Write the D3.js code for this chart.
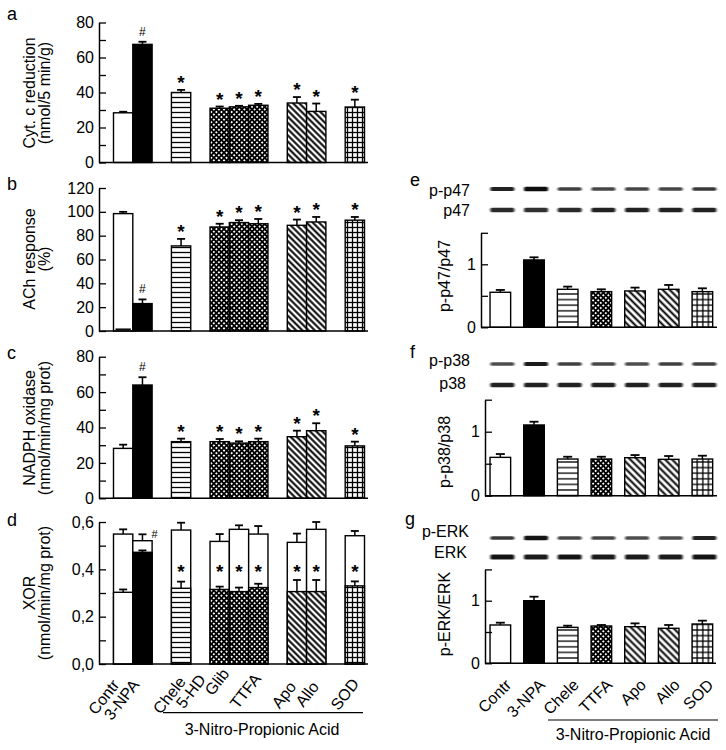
<!DOCTYPE html>
<html><head><meta charset="utf-8">
<script src="https://cdn.jsdelivr.net/npm/d3@7"></script>
<style>body{margin:0;background:#fff}svg{display:block}text{font-family:"Liberation Sans",Arial,Helvetica,sans-serif;fill:#000}</style>
</head><body><svg id="c" width="726" height="750"></svg>
<script>
// ---------------- DATA ----------------
const leftClusters = [["Contr","3-NPA"],["Chele"],["5-HD","Glib","TTFA"],["Apo","Allo"],["SOD"]];
const leftGroups = leftClusters.flat();
// a: Cyt. c reduction
const cytMean = [28.4, 67.5, 40.0, 31.0, 31.8, 32.7, 34.0, 29.2, 31.7];
const cytErr  = [0.6, 1.5, 1.5, 1.0, 0.6, 0.8, 3.4, 4.5, 4.2];
const cytSig  = ["", "#", "*", "*", "*", "*", "*", "*", "*"];
// b: ACh response
const achMean = [98.5, 23.0, 71.4, 87.3, 91.0, 90.0, 88.7, 91.5, 93.0];
const achErr  = [1.5, 3.5, 5.9, 2.7, 2.0, 4.0, 4.8, 4.2, 2.7];
const achSig  = ["", "#", "*", "*", "*", "*", "*", "*", "*"];
const achBase = [1.5, 0, 0, 0, 0, 0, 0, 0, 0];
// c: NADPH oxidase
const noxMean = [28.2, 64.0, 32.0, 32.0, 31.2, 32.0, 34.8, 38.2, 29.6];
const noxErr  = [2.1, 4.4, 1.7, 1.5, 1.0, 1.7, 3.4, 4.2, 2.4];
const noxSig  = ["", "#", "*", "*", "*", "*", "*", "*", "*"];
// d: XOR (total and lower component)
const xorTotal    = [0.549, 0.521, 0.566, 0.518, 0.569, 0.549, 0.514, 0.569, 0.542];
const xorTotalErr = [0.020, 0.027, 0.031, 0.031, 0.017, 0.034, 0.037, 0.031, 0.020];
const xorPart     = [0.303, 0.472, 0.320, 0.315, 0.306, 0.323, 0.306, 0.306, 0.330];
const xorPartErr  = [0.012, 0.008, 0.028, 0.012, 0.017, 0.016, 0.049, 0.049, 0.019];
const xorSig      = ["", "#", "*", "*", "*", "*", "*", "*", "*"];

const rightGroups = ["Contr","3-NPA","Chele","TTFA","Apo","Allo","SOD"];
const p47Mean = [0.556, 1.069, 0.603, 0.566, 0.577, 0.603, 0.566];
const p47Err  = [0.037, 0.042, 0.043, 0.037, 0.053, 0.069, 0.053];
const p38Mean = [0.599, 1.105, 0.573, 0.573, 0.594, 0.568, 0.573];
const p38Err  = [0.052, 0.051, 0.036, 0.036, 0.041, 0.052, 0.052];
const erkMean = [0.612, 1.000, 0.574, 0.596, 0.585, 0.559, 0.628];
const erkErr  = [0.037, 0.064, 0.027, 0.016, 0.053, 0.053, 0.053];
// western blot band intensities (relative darkness)
const p47PhosBand = [0.85, 1.00, 0.65, 0.60, 0.60, 0.60, 0.70];
const p47TotBand  = [0.80, 0.75, 0.80, 0.85, 0.85, 0.85, 0.85];
const p38PhosBand = [0.55, 0.90, 0.65, 0.60, 0.55, 0.65, 0.65];
const p38TotBand  = [0.85, 0.85, 0.85, 0.85, 0.85, 0.85, 0.85];
const erkPhosBand = [0.70, 0.95, 0.60, 0.60, 0.55, 0.55, 0.85];
const erkTotBand  = [0.95, 0.90, 0.95, 0.90, 0.90, 0.90, 0.95];

const leftTicksA = [0,20,40,60,80], leftMinorA = [10,30,50,70];
const leftTicksB = [0,20,40,60,80,100,120];
const leftTicksD = [0,0.2,0.4,0.6], leftMinorD = [0.1,0.3,0.5];
const rightTicks = [0,0.5,1,1.5], rightTickLabels = [0,1];

// ---------------- STYLE ----------------
const fillKind = {"Contr":"white","3-NPA":"black","Chele":"hline","5-HD":"cross","Glib":"cross","TTFA":"cross","Apo":"diag","Allo":"diag","SOD":"grid"};
const svg = d3.select("#c");
const defs = svg.append("defs");
function mkPatterns(suffix, s){
  let p = defs.append("pattern").attr("id","hline"+suffix).attr("patternUnits","userSpaceOnUse").attr("width",s).attr("height",s);
  p.append("rect").attr("width",s).attr("height",s).attr("fill","#fff");
  p.append("line").attr("x1",0).attr("x2",s).attr("y1",s/2).attr("y2",s/2).attr("stroke","#000").attr("stroke-width",1.3);
  p = defs.append("pattern").attr("id","grid"+suffix).attr("patternUnits","userSpaceOnUse").attr("width",s).attr("height",s);
  p.append("rect").attr("width",s).attr("height",s).attr("fill","#fff");
  p.append("line").attr("x1",0).attr("x2",s).attr("y1",s/2).attr("y2",s/2).attr("stroke","#000").attr("stroke-width",1.3);
  p.append("line").attr("y1",0).attr("y2",s).attr("x1",s/2).attr("x2",s/2).attr("stroke","#000").attr("stroke-width",1.3);
  const d = s*0.88;
  p = defs.append("pattern").attr("id","diag"+suffix).attr("patternUnits","userSpaceOnUse").attr("width",d).attr("height",d).attr("patternTransform","rotate(-45)");
  p.append("rect").attr("width",d).attr("height",d).attr("fill","#fff");
  p.append("line").attr("y1",0).attr("y2",d).attr("x1",d/2).attr("x2",d/2).attr("stroke","#000").attr("stroke-width",2.0);
  const c = 3.6;
  p = defs.append("pattern").attr("id","cross"+suffix).attr("patternUnits","userSpaceOnUse").attr("width",c).attr("height",c).attr("patternTransform","rotate(45)");
  p.append("rect").attr("width",c).attr("height",c).attr("fill","#000");
  p.append("rect").attr("x",0.9).attr("y",0.9).attr("width",1.8).attr("height",1.8).attr("fill","#fff");
}
mkPatterns("L",5);
mkPatterns("R",5.6);
defs.append("filter").attr("id","blur").attr("x","-20%").attr("y","-100%").attr("width","140%").attr("height","300%")
  .append("feGaussianBlur").attr("stdDeviation","1.0 0.7");

function fillOf(g, suf){
  const k = fillKind[g];
  if(k==="white") return "#fff";
  if(k==="black") return "#000";
  return "url(#"+k+suf+")";
}

// left x scale with gaps between clusters
const leftDomain = [];
leftClusters.forEach((cl,i)=>{ if(i>0) leftDomain.push("gap"+i); cl.forEach(g=>leftDomain.push(g)); });
const xL = d3.scaleBand().domain(leftDomain).range([113.5, 364.5]).padding(0);
const xR = d3.scaleBand().domain(rightGroups).range([483.5, 719.2]).paddingInner(0.388).paddingOuter(0.194);

function yAxis(g, y, ticks, minor, fmt, ax){
  const a = d3.axisLeft(y).tickValues(ticks).tickSizeInner(-7).tickSizeOuter(0).tickPadding(5).tickFormat(fmt);
  const gg = g.append("g").attr("transform",`translate(${ax},0)`).call(a);
  gg.select(".domain").attr("stroke-width",1.5);
  gg.selectAll(".tick line").attr("stroke-width",1.3);
  gg.selectAll(".tick text").style("font-size","16px").attr("fill","#000");
  if(minor){
    const m = g.append("g").attr("transform",`translate(${ax},0)`).call(d3.axisLeft(y).tickValues(minor).tickSizeInner(-7).tickSizeOuter(0).tickFormat(""));
    m.select(".domain").remove();
    m.selectAll(".tick line").attr("stroke-width",1.3);
  }
}
function errBar(g, cx, y0, y1, cap){
  g.append("line").attr("x1",cx).attr("x2",cx).attr("y1",y0).attr("y2",y1).attr("stroke","#000").attr("stroke-width",1.5);
  g.append("line").attr("x1",cx-cap/2).attr("x2",cx+cap/2).attr("y1",y1).attr("y2",y1).attr("stroke","#000").attr("stroke-width",1.8);
}
function sigMark(g, s, cx, yTop){
  if(s==="*") g.append("text").attr("x",cx).attr("y",yTop-1).attr("text-anchor","middle").style("font-size","19px").style("font-weight","bold").text("*");
  else if(s==="#") g.append("text").attr("x",cx).attr("y",yTop-6).attr("text-anchor","middle").style("font-size","12px").text("#");
}
function simplePanel(opts){
  const {x, groups, mean, err, sig, y, ticks, minor, fmt, ax, axEnd, suf, cap} = opts;
  const g = svg.append("g");
  groups.forEach((k,i)=>{
    const x0 = x(k), w = x.bandwidth();
    g.append("rect").attr("x",x0).attr("y",y(mean[i])).attr("width",w).attr("height",y(0)-y(mean[i]))
      .attr("fill",fillOf(k,suf)).attr("stroke","#000").attr("stroke-width",1.4);
    errBar(g, x0+w/2, y(mean[i]), y(mean[i]+err[i]), cap);
    if(sig) sigMark(g, sig[i], x0+w/2, y(mean[i]+err[i]));
  });
  yAxis(g, y, ticks, minor, fmt, ax);
  g.append("line").attr("x1",ax).attr("x2",axEnd).attr("y1",y(0)).attr("y2",y(0)).attr("stroke","#000").attr("stroke-width",1.6);
  return g;
}
function panelLetter(t,x,yy){ svg.append("text").attr("x",x).attr("y",yy).style("font-size","18px").text(t); }
function leftTitle(lines, cy){
  lines.forEach((t,i)=>{
    svg.append("text").attr("transform",`translate(${35+i*15},${cy}) rotate(-90)`).attr("text-anchor","middle").style("font-size","16px").text(t);
  });
}
const intFmt = d3.format("d");
const commaFmt = v => d3.format(".1f")(v).replace(".",",");

// ---------- a ----------
const yA = d3.scaleLinear().domain([0,80]).range([162.5,22.5]);
simplePanel({x:xL, groups:leftGroups, mean:cytMean, err:cytErr, sig:cytSig, y:yA, ticks:leftTicksA, minor:leftMinorA, fmt:intFmt, ax:99, axEnd:368, suf:"L", cap:8});
panelLetter("a",7,20); leftTitle(["Cyt. c reduction","(nmol/5 min/g)"], 93);

// ---------- b ----------
const yB = d3.scaleLinear().domain([0,120]).range([331,188]);
const gb = simplePanel({x:xL, groups:leftGroups, mean:achMean, err:achErr, sig:achSig, y:yB, ticks:leftTicksB, minor:null, fmt:intFmt, ax:99, axEnd:368, suf:"L", cap:8});
leftGroups.forEach((k,i)=>{ if(achBase[i]>0){ gb.append("line").attr("x1",xL(k)+2).attr("x2",xL(k)+xL.bandwidth()-2).attr("y1",yB(achBase[i])).attr("y2",yB(achBase[i])).attr("stroke","#000").attr("stroke-width",1.5);} });
panelLetter("b",7,190); leftTitle(["ACh response","(%)"], 259);

// ---------- c ----------
const yC = d3.scaleLinear().domain([0,80]).range([498.3,356.7]);
simplePanel({x:xL, groups:leftGroups, mean:noxMean, err:noxErr, sig:noxSig, y:yC, ticks:leftTicksA, minor:leftMinorA, fmt:intFmt, ax:99, axEnd:368, suf:"L", cap:8});
panelLetter("c",7,359); leftTitle(["NADPH oxidase","(nmol/min/mg prot)"], 428);

// ---------- d ----------
const yD = d3.scaleLinear().domain([0,0.6]).range([664,522]);
{
  const g = svg.append("g");
  leftGroups.forEach((k,i)=>{
    const x0 = xL(k), w = xL.bandwidth(), cx = x0+w/2;
    g.append("rect").attr("x",x0).attr("y",yD(xorTotal[i])).attr("width",w).attr("height",yD(0)-yD(xorTotal[i])).attr("fill","#fff").attr("stroke","#000").attr("stroke-width",1.4);
    errBar(g, cx, yD(xorTotal[i]), yD(xorTotal[i]+xorTotalErr[i]), 8);
    g.append("rect").attr("x",x0).attr("y",yD(xorPart[i])).attr("width",w).attr("height",yD(0)-yD(xorPart[i])).attr("fill",fillOf(k,"L")).attr("stroke","#000").attr("stroke-width",1.4);
    errBar(g, cx, yD(xorPart[i]), yD(xorPart[i]+xorPartErr[i]), 8);
    if(xorSig[i]==="*") g.append("text").attr("x",cx).attr("y",yD(0.4)+9).attr("text-anchor","middle").style("font-size","19px").style("font-weight","bold").text("*");
    if(xorSig[i]==="#") g.append("text").attr("x",cx+12).attr("y",yD(xorTotal[i]+xorTotalErr[i])+4).attr("text-anchor","middle").style("font-size","11px").text("#");
  });
  yAxis(g, yD, leftTicksD, leftMinorD, commaFmt, 99);
  g.append("line").attr("x1",99).attr("x2",368).attr("y1",yD(0)).attr("y2",yD(0)).attr("stroke","#000").attr("stroke-width",1.6);
}
panelLetter("d",7,526); leftTitle(["XOR","(nmol/min/mg prot)"], 593);

// left x labels (steeper, hand-staggered as in the original)
const leftLabelNudge = {"Contr":[-3,-1],"3-NPA":[-2.5,-1],"Chele":[5.5,-4],"5-HD":[-13,-6],"Glib":[-9,-12],"TTFA":[3.5,-7],"Apo":[0,1],"Allo":[3.5,1],"SOD":[5,-2]};
leftGroups.forEach(k=>{
  const n = leftLabelNudge[k];
  const cx = xL(k)+xL.bandwidth()/2 + n[0], cy = 686 + n[1];
  svg.append("text").attr("transform",`translate(${cx},${cy}) rotate(-52)`).attr("text-anchor","end").style("font-size","16px").text(k);
});
svg.append("line").attr("x1",163).attr("x2",363).attr("y1",712.7).attr("y2",712.7).attr("stroke","#000").attr("stroke-width",1.2);
svg.append("text").attr("x",262).attr("y",735).attr("text-anchor","middle").style("font-size","16px").text("3-Nitro-Propionic Acid");

// ---------- right panels ----------
function blot(phos, tot, yPhos, yTot, letter, letterXY, lab1, lab2, lab1XY, lab2XY){
  const g = svg.append("g");
  rightGroups.forEach((k,i)=>{
    const cx = xR(k)+xR.bandwidth()/2+2;
    const h1 = 2.0+phos[i]*2.4;
    g.append("rect").attr("x",cx-12).attr("y",yPhos-h1/2).attr("width",24).attr("height",h1).attr("rx",1.5)
      .attr("fill","#111").attr("opacity",0.4+0.6*phos[i]).attr("filter","url(#blur)");
    const h2 = 2.6+tot[i]*2.4;
    g.append("rect").attr("x",cx-12).attr("y",yTot-h2/2).attr("width",24).attr("height",h2).attr("rx",1.5)
      .attr("fill","#111").attr("opacity",0.4+0.6*tot[i]).attr("filter","url(#blur)");
  });
  svg.append("text").attr("x",letterXY[0]).attr("y",letterXY[1]).style("font-size","18px").text(letter);
  svg.append("text").attr("x",lab1XY[0]).attr("y",lab1XY[1]).attr("text-anchor","end").style("font-size","16px").text(lab1);
  svg.append("text").attr("x",lab2XY[0]).attr("y",lab2XY[1]).attr("text-anchor","end").style("font-size","16px").text(lab2);
}
function rightTitle(t, cy){ svg.append("text").attr("transform",`translate(450,${cy}) rotate(-90)`).attr("text-anchor","middle").style("font-size","16px").text(t); }
const rFmt = v => rightTickLabels.includes(v) ? String(v) : "";

blot(p47PhosBand, p47TotBand, 189, 210, "e", [410,186], "p-p47", "p47", [470,196], [470,216]);
const yE = d3.scaleLinear().domain([0,1.5]).range([327.3,232.8]);
simplePanel({x:xR, groups:rightGroups, mean:p47Mean, err:p47Err, sig:null, y:yE, ticks:rightTicks, minor:null, fmt:rFmt, ax:481, axEnd:717, suf:"R", cap:9});
rightTitle("p-p47/p47", 276);

blot(p38PhosBand, p38TotBand, 364, 385, "f", [410,358], "p-p38", "p38", [470,366], [466,389]);
const yF = d3.scaleLinear().domain([0,1.5]).range([495.7,399.7]);
simplePanel({x:xR, groups:rightGroups, mean:p38Mean, err:p38Err, sig:null, y:yF, ticks:rightTicks, minor:null, fmt:rFmt, ax:485, axEnd:717, suf:"R", cap:9});
rightTitle("p-p38/p38", 452);

blot(erkPhosBand, erkTotBand, 538, 557, "g", [405,525], "p-ERK", "ERK", [469,537], [467,558]);
const yG = d3.scaleLinear().domain([0,1.5]).range([663.3,569.4]);
simplePanel({x:xR, groups:rightGroups, mean:erkMean, err:erkErr, sig:null, y:yG, ticks:rightTicks, minor:null, fmt:rFmt, ax:485, axEnd:716, suf:"R", cap:9});
rightTitle("p-ERK/ERK", 614);

rightGroups.forEach(k=>{
  const cx = xR(k)+xR.bandwidth()/2 + 12;
  svg.append("text").attr("transform",`translate(${cx},686) rotate(-45)`).attr("text-anchor","end").style("font-size","16px").text(k);
});
svg.append("line").attr("x1",548).attr("x2",718).attr("y1",720).attr("y2",720).attr("stroke","#000").attr("stroke-width",1.2);
svg.append("text").attr("x",633).attr("y",740).attr("text-anchor","middle").style("font-size","16px").text("3-Nitro-Propionic Acid");
</script></body></html>
